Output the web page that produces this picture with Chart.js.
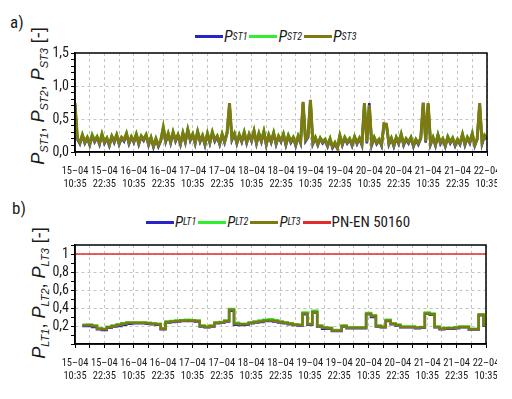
<!DOCTYPE html>
<html>
<head>
<meta charset="utf-8">
<script src="https://cdn.jsdelivr.net/npm/chart.js@4.4.0/dist/chart.umd.min.js"></script>
<style>
  body { margin: 0; width: 512px; height: 399px; background: #fff; position: relative; overflow: hidden;
         font-family: 'Liberation Sans', Arial, sans-serif; color: #1a1a1a; }
  .wrap { position: absolute; left: 0; width: 497px; overflow: hidden; }
  #wrapA { top: 0; height: 195px; }
  #wrapB { top: 195px; height: 204px; }
  canvas { display: block; }
  .tag { position: absolute; font-size: 17px; font-family: 'Roboto Condensed', sans-serif; }
  .legend { position: absolute; display: flex; align-items: center; white-space: nowrap;
            font-family: 'Roboto Condensed', sans-serif; font-size: 16px; }
  .legend .ln { display: inline-block; width: 28px; height: 3px; margin: 0 1px 0 2px; }
  .legend sub { font-size: 10px; }
  .ytitle { position: absolute; white-space: nowrap; font-size: 18px;
            transform: translate(-50%, -50%) rotate(-90deg); }
  sub { font-size: 11px; vertical-align: -4px; line-height: 0; }
</style>
</head>
<body>
<div class="tag" style="left:10px;top:12px">a)</div>
<div class="tag" style="left:12px;top:198px">b)</div>

<div class="legend" style="left:193px;top:27px">
  <span class="ln" style="background:#2626c8"></span><i>P</i><sub><i>ST1</i></sub>
  <span class="ln" style="background:#30ee30"></span><i>P</i><sub><i>ST2</i></sub>
  <span class="ln" style="background:#7c7a10"></span><i>P</i><sub><i>ST3</i></sub>
</div>
<div class="legend" style="left:144px;top:213px;font-size:15px">
  <span class="ln" style="background:#2626c8"></span><i>P</i><sub><i>LT1</i></sub>
  <span class="ln" style="background:#30ee30"></span><i>P</i><sub><i>LT2</i></sub>
  <span class="ln" style="background:#7c7a10"></span><i>P</i><sub><i>LT3</i></sub>
  <span class="ln" style="background:#e32b2b"></span>PN-EN 50160
</div>

<div class="ytitle" style="left:38px;top:96px"><i>P</i><sub><i>ST1</i></sub>, <i>P</i><sub><i>ST2</i></sub>, <i>P</i><sub><i>ST3</i></sub> [-]</div>
<div class="ytitle" style="left:39px;top:293px"><i>P</i><sub><i>LT1</i></sub>, <i>P</i><sub><i>LT2</i></sub>, <i>P</i><sub><i>LT3</i></sub> [-]</div>

<div class="wrap" id="wrapA"><canvas id="chartA" width="512" height="195"></canvas></div>
<div class="wrap" id="wrapB"><canvas id="chartB" width="512" height="204"></canvas></div>

<script>
// x-axis tick labels, every 12 h from 15-04 10:35
const tickDays = ['15–04', '15–04', '16–04', '16–04', '17–04', '17–04', '18–04', '18–04',
                  '19–04', '19–04', '20–04', '20–04', '21–04', '21–04', '22–04'];
const tickTimes = ['10:35', '22:35', '10:35', '22:35', '10:35', '22:35', '10:35', '22:35',
                   '10:35', '22:35', '10:35', '22:35', '10:35', '22:35', '10:35'];

// Pst, one value per hour (h = 0..168)
const pst3 = [
  0.74, 0.2, 0.14, 0.26, 0.15, 0.22, 0.12, 0.25, 0.17, 0.23, 0.13, 0.27,
  0.15, 0.21, 0.11, 0.24, 0.16, 0.26, 0.13, 0.22, 0.18, 0.28, 0.14, 0.23,
  0.16, 0.27, 0.13, 0.24, 0.19, 0.26, 0.12, 0.22, 0.09, 0.2, 0.1, 0.18,
  0.37, 0.17, 0.28, 0.15, 0.3, 0.18, 0.26, 0.13, 0.29, 0.16, 0.34, 0.19,
  0.27, 0.14, 0.31, 0.17, 0.25, 0.12, 0.28, 0.15, 0.3, 0.18, 0.24, 0.13,
  0.27, 0.16, 0.29, 0.74, 0.2, 0.28, 0.14, 0.26, 0.17, 0.3, 0.15, 0.27,
  0.18, 0.32, 0.14, 0.28, 0.17, 0.31, 0.12, 0.26, 0.16, 0.29, 0.13, 0.24,
  0.17, 0.27, 0.12, 0.25, 0.16, 0.22, 0.11, 0.24, 0.15, 0.76, 0.18, 0.23,
  0.79, 0.14, 0.22, 0.12, 0.21, 0.15, 0.19, 0.1, 0.2, 0.08, 0.14, 0.06,
  0.25, 0.12, 0.22, 0.15, 0.2, 0.11, 0.23, 0.14, 0.21, 0.12, 0.74, 0.15,
  0.71, 0.12, 0.22, 0.14, 0.19, 0.11, 0.43, 0.42, 0.13, 0.21, 0.1, 0.22,
  0.14, 0.27, 0.12, 0.2, 0.15, 0.22, 0.1, 0.19, 0.13, 0.21, 0.75, 0.16,
  0.74, 0.13, 0.22, 0.11, 0.26, 0.14, 0.2, 0.1, 0.23, 0.15, 0.21, 0.11,
  0.19, 0.13, 0.27, 0.12, 0.22, 0.15, 0.28, 0.11, 0.2, 0.74, 0.14, 0.25, 0.2
];
const pst2 = [
  0.72, 0.21, 0.15, 0.27, 0.16, 0.23, 0.13, 0.27, 0.18, 0.24, 0.14, 0.28,
  0.16, 0.22, 0.12, 0.25, 0.17, 0.27, 0.14, 0.23, 0.19, 0.29, 0.15, 0.24,
  0.17, 0.28, 0.14, 0.25, 0.2, 0.27, 0.13, 0.23, 0.1, 0.21, 0.11, 0.19,
  0.39, 0.18, 0.29, 0.16, 0.31, 0.19, 0.27, 0.14, 0.3, 0.17, 0.35, 0.2,
  0.28, 0.15, 0.32, 0.18, 0.26, 0.13, 0.29, 0.16, 0.31, 0.19, 0.25, 0.14,
  0.28, 0.17, 0.3, 0.72, 0.21, 0.29, 0.15, 0.27, 0.18, 0.31, 0.16, 0.28,
  0.19, 0.33, 0.15, 0.29, 0.18, 0.32, 0.13, 0.27, 0.17, 0.3, 0.14, 0.25,
  0.18, 0.28, 0.13, 0.26, 0.17, 0.23, 0.12, 0.25, 0.16, 0.74, 0.19, 0.24,
  0.77, 0.15, 0.23, 0.13, 0.22, 0.16, 0.2, 0.11, 0.21, 0.09, 0.15, 0.07,
  0.26, 0.13, 0.23, 0.16, 0.21, 0.12, 0.24, 0.15, 0.22, 0.13, 0.72, 0.16,
  0.7, 0.13, 0.23, 0.15, 0.2, 0.12, 0.42, 0.41, 0.14, 0.22, 0.11, 0.23,
  0.15, 0.28, 0.13, 0.21, 0.16, 0.23, 0.11, 0.2, 0.14, 0.22, 0.73, 0.17,
  0.72, 0.14, 0.23, 0.12, 0.27, 0.15, 0.21, 0.11, 0.24, 0.16, 0.22, 0.12,
  0.2, 0.14, 0.28, 0.13, 0.23, 0.16, 0.29, 0.12, 0.21, 0.72, 0.15, 0.26, 0.21
];
const pst1 = [
  0.7, 0.19, 0.12, 0.25, 0.13, 0.21, 0.1, 0.24, 0.15, 0.22, 0.11, 0.26,
  0.13, 0.2, 0.09, 0.23, 0.14, 0.25, 0.11, 0.21, 0.16, 0.27, 0.12, 0.22,
  0.14, 0.26, 0.11, 0.23, 0.17, 0.25, 0.1, 0.21, 0.07, 0.19, 0.08, 0.17,
  0.35, 0.15, 0.27, 0.13, 0.29, 0.16, 0.25, 0.11, 0.28, 0.14, 0.33, 0.17,
  0.26, 0.12, 0.3, 0.15, 0.24, 0.1, 0.27, 0.13, 0.29, 0.16, 0.23, 0.11,
  0.26, 0.14, 0.28, 0.71, 0.18, 0.27, 0.12, 0.25, 0.15, 0.29, 0.13, 0.26,
  0.16, 0.31, 0.12, 0.27, 0.15, 0.3, 0.1, 0.25, 0.14, 0.28, 0.11, 0.23,
  0.15, 0.26, 0.1, 0.24, 0.14, 0.21, 0.09, 0.23, 0.13, 0.75, 0.16, 0.22,
  0.78, 0.12, 0.21, 0.1, 0.2, 0.13, 0.18, 0.08, 0.19, 0.06, 0.12, 0.05,
  0.24, 0.1, 0.21, 0.13, 0.19, 0.09, 0.22, 0.12, 0.2, 0.1, 0.73, 0.13,
  0.74, 0.1, 0.21, 0.12, 0.18, 0.09, 0.42, 0.41, 0.11, 0.2, 0.08, 0.21,
  0.12, 0.26, 0.1, 0.19, 0.13, 0.21, 0.08, 0.18, 0.11, 0.2, 0.74, 0.14,
  0.73, 0.11, 0.21, 0.09, 0.25, 0.12, 0.19, 0.08, 0.22, 0.13, 0.2, 0.09,
  0.18, 0.11, 0.26, 0.1, 0.21, 0.13, 0.27, 0.09, 0.19, 0.73, 0.12, 0.24, 0.19
];

// Plt, 2 h windows ending at h = 3, 5, ..., 167
const plt3 = [
  0.21, 0.21, 0.2, 0.17, 0.165, 0.19, 0.2, 0.21, 0.225, 0.235, 0.235, 0.235,
  0.235, 0.23, 0.225, 0.22, 0.17, 0.245, 0.25, 0.255, 0.26, 0.26, 0.26, 0.255,
  0.2, 0.19, 0.2, 0.235, 0.24, 0.255, 0.38, 0.225, 0.22, 0.22, 0.235, 0.245,
  0.25, 0.26, 0.26, 0.255, 0.245, 0.235, 0.225, 0.215, 0.21, 0.34, 0.22, 0.355,
  0.2, 0.18, 0.175, 0.15, 0.15, 0.2, 0.18, 0.18, 0.18, 0.18, 0.335, 0.31,
  0.2, 0.19, 0.26, 0.225, 0.21, 0.19, 0.19, 0.19, 0.18, 0.185, 0.34, 0.33,
  0.19, 0.17, 0.175, 0.175, 0.18, 0.19, 0.19, 0.165, 0.165, 0.325, 0.195
];
const plt2 = [
  0.21, 0.215, 0.205, 0.175, 0.17, 0.19, 0.205, 0.22, 0.23, 0.24, 0.24, 0.24,
  0.24, 0.235, 0.23, 0.225, 0.175, 0.25, 0.255, 0.26, 0.265, 0.27, 0.265, 0.26,
  0.205, 0.195, 0.205, 0.24, 0.245, 0.26, 0.39, 0.235, 0.225, 0.225, 0.24, 0.25,
  0.26, 0.27, 0.275, 0.265, 0.25, 0.24, 0.23, 0.22, 0.215, 0.35, 0.225, 0.37,
  0.205, 0.185, 0.18, 0.155, 0.155, 0.205, 0.185, 0.185, 0.185, 0.185, 0.345, 0.32,
  0.205, 0.195, 0.27, 0.23, 0.215, 0.195, 0.195, 0.195, 0.185, 0.19, 0.35, 0.34,
  0.195, 0.175, 0.18, 0.18, 0.185, 0.195, 0.195, 0.17, 0.17, 0.33, 0.2
];
const plt1 = [
  0.2, 0.2, 0.19, 0.165, 0.155, 0.18, 0.195, 0.2, 0.215, 0.225, 0.23, 0.23,
  0.23, 0.225, 0.22, 0.215, 0.165, 0.24, 0.245, 0.25, 0.255, 0.255, 0.255, 0.25,
  0.195, 0.185, 0.195, 0.23, 0.235, 0.25, 0.37, 0.215, 0.21, 0.215, 0.23, 0.24,
  0.245, 0.255, 0.255, 0.25, 0.24, 0.23, 0.22, 0.21, 0.205, 0.33, 0.215, 0.35,
  0.195, 0.17, 0.17, 0.145, 0.145, 0.195, 0.175, 0.175, 0.175, 0.175, 0.33, 0.3,
  0.195, 0.185, 0.255, 0.22, 0.205, 0.185, 0.185, 0.185, 0.175, 0.18, 0.335, 0.325,
  0.185, 0.165, 0.17, 0.17, 0.175, 0.185, 0.185, 0.16, 0.16, 0.32, 0.19
];
const pltLimit = 1; // PN-EN 50160

const BLUE = '#2626c8', GREEN = '#30ee30', OLIVE = '#7c7a10', RED = '#e32b2b';

Chart.defaults.font.family = "'Roboto Condensed', 'Liberation Sans', sans-serif";
Chart.defaults.color = '#1a1a1a';

const toXY = (arr, start, step) => arr.map((v, i) => ({x: start + i * step, y: v}));

// black frame round the plot area
const framePlugin = {
  id: 'frame',
  afterDraw(chart) {
    const a = chart.chartArea, c = chart.ctx;
    c.save();
    c.strokeStyle = '#000';
    c.lineWidth = 1.5;
    c.strokeRect(a.left, a.top, a.right - a.left, a.bottom - a.top);
    c.restore();
  }
};

function xAxis() {
  return {
    type: 'linear', min: 0, max: 168,
    afterFit: (s) => { s.height = 43; s.paddingLeft = 0; s.paddingRight = 0; },
    ticks: {
      stepSize: 6, autoSkip: false, maxRotation: 0, padding: 9,
      font: {size: 10.5}, color: '#1a1a1a',
      callback: (v) => (v % 12 === 0 ? [tickDays[v / 12], tickTimes[v / 12]] : '')
    },
    grid: {color: '#c4c4c4', tickColor: '#000', tickLength: 4, lineWidth: 1},
    border: {color: '#000', width: 1.5, dash: [3, 3]}
  };
}

function yAxis(max, labelFn, gridFn) {
  return {
    min: 0, max: max,
    afterFit: (s) => { s.width = 75; },
    ticks: {stepSize: 0.1, autoSkip: false, padding: 2, font: {size: 14}, color: '#1a1a1a', callback: labelFn},
    grid: {
      color: (ctx) => (gridFn(ctx.tick.value) ? '#c4c4c4' : 'rgba(0,0,0,0)'),
      tickColor: '#000', tickLength: 4, lineWidth: 1
    },
    border: {color: '#000', width: 1.5, dash: [3, 3]}
  };
}

const common = {
  responsive: false,
  animation: false,
  events: [],
  plugins: {legend: {display: false}, tooltip: {enabled: false}},
  elements: {point: {radius: 0}}
};

new Chart(document.getElementById('chartA'), {
  type: 'line',
  data: {
    datasets: [
      {data: toXY(pst1, 0, 1), borderColor: BLUE, borderWidth: 2.6, order: 3},
      {data: toXY(pst2, 0, 1), borderColor: GREEN, borderWidth: 2.6, order: 2},
      {data: toXY(pst3, 0, 1), borderColor: OLIVE, borderWidth: 3, order: 1}
    ]
  },
  options: Object.assign({}, common, {
    layout: {padding: {left: 0, top: 53, right: 25, bottom: 0}},
    scales: {
      x: xAxis(),
      y: yAxis(1.5,
        (v) => (Math.round(v * 10) % 5 === 0 ? v.toFixed(1).replace('.', ',') : ''),
        (v) => Math.round(v * 10) === 5 || Math.round(v * 10) === 10)
    }
  }),
  plugins: [framePlugin]
});

new Chart(document.getElementById('chartB'), {
  type: 'line',
  data: {
    datasets: [
      {data: toXY(plt1, 3, 2), borderColor: BLUE, borderWidth: 2.5, stepped: 'before', order: 4},
      {data: toXY(plt2, 3, 2), borderColor: GREEN, borderWidth: 2.5, stepped: 'before', order: 3},
      {data: toXY(plt3, 3, 2), borderColor: OLIVE, borderWidth: 2.5, stepped: 'before', order: 2},
      {data: [{x: 0, y: pltLimit}, {x: 168, y: pltLimit}], borderColor: RED, borderWidth: 1.5, order: 1}
    ]
  },
  options: Object.assign({}, common, {
    layout: {padding: {left: 0, top: 50, right: 26, bottom: 12}},
    scales: {
      x: xAxis(),
      y: yAxis(1.1,
        (v) => {
          const t = Math.round(v * 10);
          if (t === 0 || t > 10 || t % 2 !== 0) return '';
          return t === 10 ? '1' : (t / 10).toFixed(1).replace('.', ',');
        },
        (v) => { const t = Math.round(v * 10); return t > 0 && t <= 10 && t % 2 === 0; })
    }
  }),
  plugins: [framePlugin]
});
</script>
</body>
</html>
